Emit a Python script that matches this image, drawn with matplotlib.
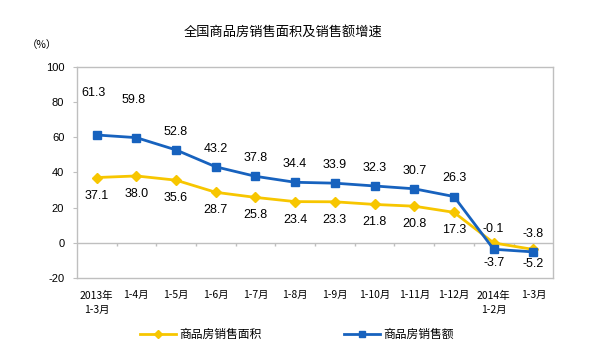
import numpy as np
import matplotlib
matplotlib.use("Agg")
import matplotlib.pyplot as plt

plt.rcParams['font.family'] = ['Noto Sans CJK SC', 'DejaVu Sans']

# --- data ---
periods = ["2013年\n1-3月", "1-4月", "1-5月", "1-6月", "1-7月", "1-8月",
           "1-9月", "1-10月", "1-11月", "1-12月", "2014年\n1-2月", "1-3月"]
area_growth = [37.1, 38.0, 35.6, 28.7, 25.8, 23.4, 23.3, 21.8, 20.8, 17.3, -0.1, -3.8]
sales_growth = [61.3, 59.8, 52.8, 43.2, 37.8, 34.4, 33.9, 32.3, 30.7, 26.3, -3.7, -5.2]
area_name = "商品房销售面积"
sales_name = "商品房销售额"

# label offsets in points (Excel style, first two moved by hand)
sales_off = [30, 27, 13, 13, 13, 13, 13, 13, 13, 13, -10, -9]
area_off = [-13, -13, -13, -13, -13, -13, -13, -13, -13, -13, 10, 11]

YELLOW = "#F7C600"
BLUE = "#1762BE"
GRID = "#BFBFBF"

fig = plt.figure(figsize=(6, 3.6), dpi=100)
ax = fig.add_axes([0.128, 0.228, 0.794, 0.586])

x = np.arange(len(periods))
ax.plot(x, area_growth, color=YELLOW, lw=2, marker="D", ms=5, zorder=3)
ax.plot(x, sales_growth, color=BLUE, lw=2, marker="s", ms=5.5, zorder=4)

lab_font = dict(family="Liberation Sans", size=9, color="black", ha="center", va="center")
for i in x:
    ax.annotate(f"{sales_growth[i]:.1f}", (i, sales_growth[i]), xytext=(-2 if i < 2 else 0, sales_off[i]),
                textcoords="offset points", **lab_font)
    ax.annotate(f"{area_growth[i]:.1f}", (i, area_growth[i]), xytext=(0, area_off[i]),
                textcoords="offset points", **lab_font)

ax.set_xlim(-0.5, len(periods) - 0.5)
ax.set_ylim(-20, 100)
ax.set_yticks(np.arange(-20, 101, 20))
ax.set_yticklabels([str(v) for v in range(-20, 101, 20)], family="Liberation Sans", fontsize=8)
ax.tick_params(axis="y", length=3, color=GRID, pad=6)

# category axis sits at zero, labels at bottom
ax.axhline(0, color=GRID, lw=1, zorder=1)
ax.vlines(np.arange(0.5, len(periods) - 0.5, 1), -1.8, 0, color=GRID, lw=1, zorder=1)
ax.set_xticks(x)
ax.set_xticklabels(periods, fontsize=7.5, linespacing=1.5)
ax.tick_params(axis="x", length=0, pad=9)
for lbl in ax.get_xticklabels():
    lbl.set_verticalalignment("top")

for s in ax.spines.values():
    s.set_color(GRID)
    s.set_linewidth(1)

fig.text(0.472, 0.91, "全国商品房销售面积及销售额增速", ha="center", va="center", fontsize=9.5)
fig.text(0.07, 0.875, "（%）", ha="center", va="center", fontsize=7.5)

h1, = ax.plot([], [], color=YELLOW, lw=2, marker="D", ms=4.5)
h2, = ax.plot([], [], color=BLUE, lw=2, marker="s", ms=5)
fig.legend([h1, h2], [area_name, sales_name], loc="center", bbox_to_anchor=(0.495, 0.07),
           ncol=2, frameon=False, fontsize=8.5, handlelength=3.0, columnspacing=7,
           handletextpad=0.3)

fig.savefig("out.png", dpi=100)
